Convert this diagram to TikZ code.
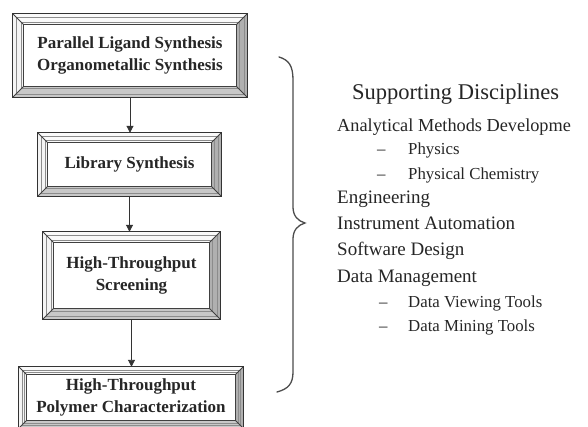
\documentclass[tikz,border=0pt]{standalone}
\usepackage{fontspec}
\setmainfont{Liberation Serif}
\usetikzlibrary{calc,arrows.meta}
\definecolor{bevR}{HTML}{B0B0B0}
\definecolor{bevB}{HTML}{C8C8C8}
\definecolor{bevT}{HTML}{FAFAFA}
\definecolor{bevL}{HTML}{F4F4F4}
\definecolor{inkc}{HTML}{262626}
\tikzset{
  stage/.style={inner sep=0pt, align=center, font=\fontsize{17}{21.5}\selectfont\bfseries, text=black!85},
  flow/.style={-{Triangle[length=7pt,width=7pt]}, line width=0.9pt, draw=black!80},
  heading/.style={anchor=base west, inner sep=0pt, font=\fontsize{22.5}{27}\selectfont, text=inkc},
  item/.style={anchor=base west, inner sep=0pt, font=\fontsize{19}{23}\selectfont, text=inkc},
  subitem/.style={anchor=base west, inner sep=0pt, font=\fontsize{16.8}{20}\selectfont, text=inkc},
  bracepath/.style={line width=1.3pt, draw=black!70, line cap=round},
  frameout/.style={draw=black!80, line width=1pt},
  framein/.style={draw=black!75, line width=0.8pt},
  framethin/.style={draw=black!45, line width=0.4pt},
}
\newcommand{\BevFrame}[2]{%
  \coordinate (#1o1) at (#1.north west);
  \coordinate (#1o2) at (#1.north east);
  \coordinate (#1o3) at (#1.south east);
  \coordinate (#1o4) at (#1.south west);
  \coordinate (#1i1) at ($(#1o1)+(#2,#2)$);
  \coordinate (#1i2) at ($(#1o2)+(-#2,#2)$);
  \coordinate (#1i3) at ($(#1o3)+(-#2,-#2)$);
  \coordinate (#1i4) at ($(#1o4)+(#2,-#2)$);
  \fill[bevT] (#1o1) -- (#1o2) -- (#1i2) -- (#1i1) -- cycle;
  \fill[bevR] (#1o2) -- (#1o3) -- (#1i3) -- (#1i2) -- cycle;
  \fill[bevB] (#1o4) -- (#1o3) -- (#1i3) -- (#1i4) -- cycle;
  \fill[bevL] (#1o1) -- (#1o4) -- (#1i4) -- (#1i1) -- cycle;
  \draw[framethin] ($(#1o1)+(3,3)$) rectangle ($(#1o3)+(-3,-3)$);
  \draw[framethin] ($(#1i1)+(-2.5,-2.5)$) rectangle ($(#1i3)+(2.5,2.5)$);
  \draw[framein] (#1o1) -- (#1i1) (#1o2) -- (#1i2) (#1o3) -- (#1i3) (#1o4) -- (#1i4);
  \draw[framein] (#1i1) rectangle (#1i3);
  \draw[frameout] (#1o1) rectangle (#1o3);
}
\begin{document}
\begin{tikzpicture}[x=1pt,y=-1pt]
\useasboundingbox (0,0) rectangle (588,427);
\fill[white] (0,0) rectangle (588,427);
% stages
\node[stage, minimum width=234pt, minimum height=83pt] (b1) at (130,55.5) {Parallel Ligand Synthesis\\Organometallic Synthesis};
\node[stage, minimum width=183pt, minimum height=63pt] (b2) at (129.5,164.5) {Library Synthesis};
\node[stage, minimum width=177pt, minimum height=87pt] (b3) at (131.5,275.5) {High-Throughput\\Screening};
\node[stage, minimum width=224pt, minimum height=61pt] (b4) at (131,397.5) {High-Throughput\\Polymer Characterization};
\BevFrame{b1}{11}
\BevFrame{b2}{10}
\BevFrame{b3}{11}
\BevFrame{b4}{8}
% connectors
\draw[flow] (b1.south) -- (b1.south |- b2.north);
\draw[flow] (b2.south) -- (b2.south |- b3.north);
\draw[flow] (b3.south) -- (b3.south |- b4.north);
% brace
\draw[bracepath] (279,57) .. controls (289,60) and (293,66) .. (293,80)
  -- (293,207) .. controls (293,216) and (298,221) .. (305,223)
  .. controls (298,225) and (293,230) .. (293,239)
  -- (293,372) .. controls (293,384) and (288,389) .. (277,392);
% right-hand list
\node[heading] (hd) at (352,100) {Supporting Disciplines};
\node[item, font=\fontsize{18.3}{22}\selectfont] (t1) at (337,132) {Analytical Methods Developme};
\node[subitem] (d1) at (377,155) {–};
\node[subitem] (t2) at (408,155) {Physics};
\node[subitem] (d2) at (377,180) {–};
\node[subitem] (t3) at (408,180) {Physical Chemistry};
\node[item] (t4) at (337,204) {Engineering};
\node[item] (t5) at (337,230) {Instrument Automation};
\node[item] (t6) at (337,256) {Software Design};
\node[item] (t7) at (337,282) {Data Management};
\node[subitem] (d3) at (379,307) {–};
\node[subitem] (t8) at (408,307) {Data Viewing Tools};
\node[subitem] (d4) at (379,331) {–};
\node[subitem] (t9) at (408,331) {Data Mining Tools};
\end{tikzpicture}
\end{document}
